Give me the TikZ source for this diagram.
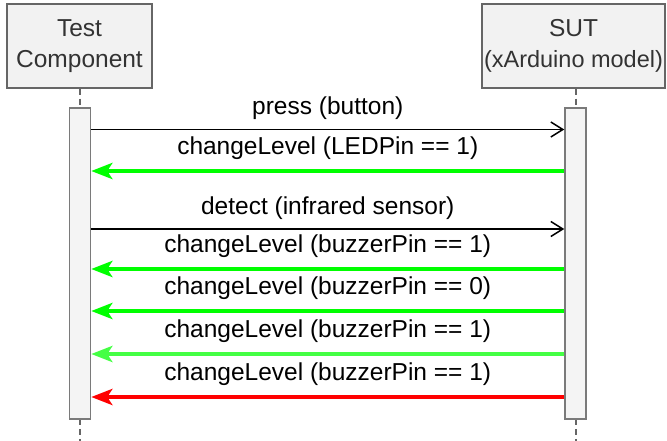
\documentclass[tikz,border=0pt]{standalone}
\usepackage{fontspec}
\setmainfont{Liberation Sans}
\usetikzlibrary{arrows.meta}
\definecolor{boxfill}{HTML}{F2F2F2}
\definecolor{boxline}{HTML}{666666}
\definecolor{barfill}{HTML}{F4F4F4}
\definecolor{barline}{HTML}{7A7A7A}
\definecolor{boxtext}{HTML}{333333}
\definecolor{okgreen}{HTML}{00FF00}
\definecolor{ltgreen}{HTML}{44FF44}
\definecolor{badred}{HTML}{FF0000}
\begin{document}
\begin{tikzpicture}[x=1pt,y=-1pt,
  actor/.style={draw=boxline,fill=boxfill,line width=1.5pt,inner sep=1pt,
    align=center,text=boxtext,font=\fontsize{24.5}{31}\selectfont},
  actbar/.style={draw=barline,fill=barfill,line width=1.5pt,inner sep=0pt,
    minimum width=21pt,minimum height=311pt},
  life/.style={draw=boxline,line width=1.5pt,dash pattern=on 6pt off 4pt},
  callmsg/.style={draw=black,line width=1.5pt,
    -{Straight Barb[length=12pt,width=15pt,line width=1.5pt]}},
  reply/.style={line width=4pt,-{Stealth[length=21pt,width=16pt,inset=5pt]}},
  lblc/.style={midway,anchor=base,yshift=14.5pt,text=black,font=\fontsize{24.5}{30}\selectfont},
  lblr/.style={midway,anchor=base,yshift=16.5pt,text=black,font=\fontsize{24.5}{30}\selectfont}]
\useasboundingbox (0,0) rectangle (667,441);
\node[actor,minimum width=145pt,minimum height=84pt] (tc) at (79.5,46) {Test\\Component};
\node[actor,minimum width=183pt,minimum height=84pt] (sut) at (573.5,46) {SUT\\{\fontsize{23.5}{31}\selectfont (xArduino model)}};
\coordinate (endL) at (80,441);
\coordinate (endR) at (576,441);
\draw[life] (tc.south -| endL) -- (endL);
\draw[life] (sut.south -| endR) -- (endR);
\node[actbar] (barL) at (80,263.5) {};
\node[actbar] (barR) at (575.5,263.5) {};
% messages
\draw[callmsg] (barL.east |- 0,129.5) -- node[lblc]{press (button)} (barR.west |- 0,129.5);
\draw[reply,okgreen] (barR.west |- 0,171) -- node[lblr]{changeLevel (LEDPin == 1)} (barL.east |- 0,171);
\draw[callmsg] (barL.east |- 0,229) -- node[lblc]{detect (infrared sensor)} (barR.west |- 0,229);
\draw[reply,okgreen] (barR.west |- 0,269) -- node[lblr]{changeLevel (buzzerPin == 1)} (barL.east |- 0,269);
\draw[reply,okgreen] (barR.west |- 0,311) -- node[lblr]{changeLevel (buzzerPin == 0)} (barL.east |- 0,311);
\draw[reply,ltgreen] (barR.west |- 0,354) -- node[lblr]{changeLevel (buzzerPin == 1)} (barL.east |- 0,354);
\draw[reply,badred] (barR.west |- 0,397) -- node[lblr]{changeLevel (buzzerPin == 1)} (barL.east |- 0,397);
\end{tikzpicture}
\end{document}
